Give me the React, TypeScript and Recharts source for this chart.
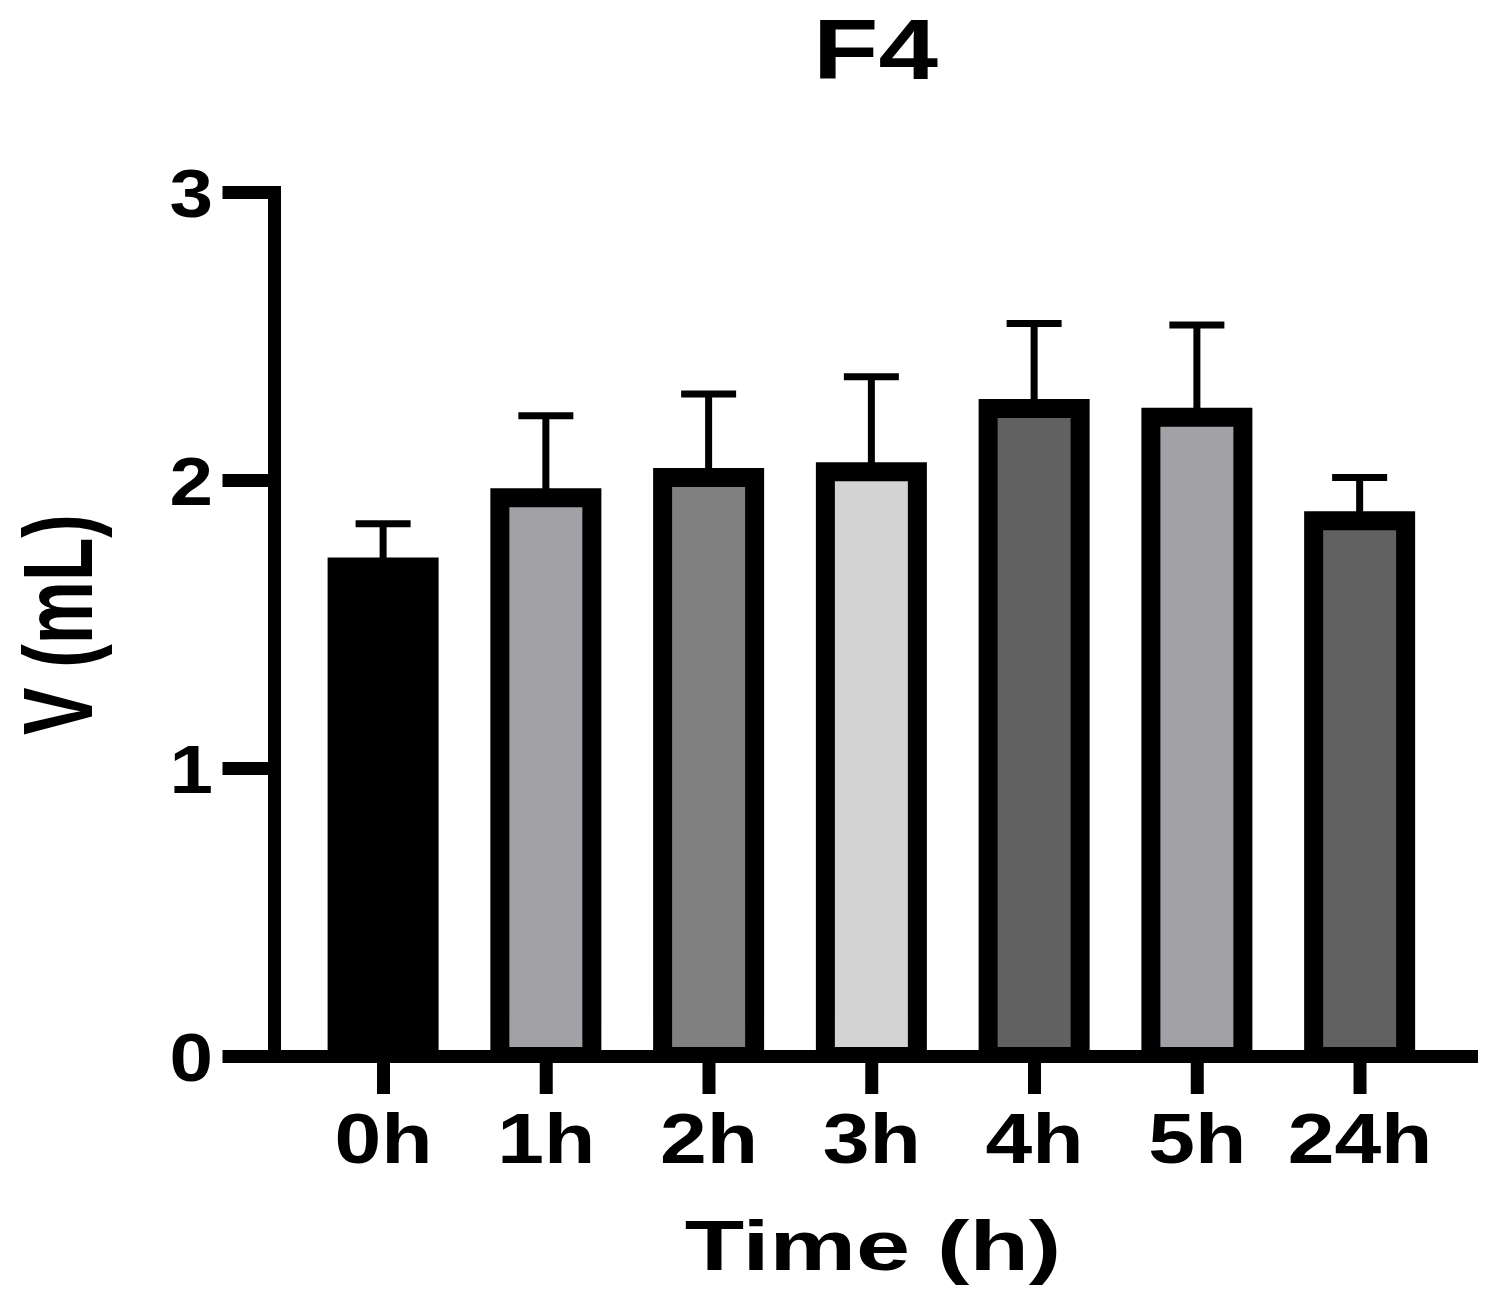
import React from "react";
import { BarChart, Bar, XAxis, YAxis, ErrorBar, Cell, Label } from "recharts";

// F4 volume over time
const categories = ["0h", "1h", "2h", "3h", "4h", "5h", "24h"];
const means = [1.7, 1.94, 2.01, 2.03, 2.25, 2.22, 1.86];
const errors = [0.15, 0.285, 0.29, 0.33, 0.295, 0.32, 0.15];
const barColors = ["#000000", "#a2a1a6", "#808080", "#d3d3d3", "#616161", "#a2a1a6", "#616161"];
const yTicks = [0, 1, 2, 3];

const data = categories.map((time, i) => ({
  time,
  volume: means[i],
  err: [0, errors[i]], // only the upper whisker is visible
}));

const FONT = '"Liberation Sans", Arial, Helvetica, sans-serif';

function XTick({ x, y, payload }: any) {
  return (
    <g transform={`translate(${x},${y})`}>
      <text
        transform="scale(1.2,1)"
        textAnchor="middle"
        dy={69}
        fontFamily={FONT}
        fontWeight="bold"
        fontSize={70}
        fill="#000"
      >
        {payload.value}
      </text>
    </g>
  );
}

function YTick({ x, y, payload }: any) {
  return (
    <g transform={`translate(${x - 9.5},${y})`}>
      <text
        transform="scale(1.15,1)"
        textAnchor="end"
        dy={24.5}
        fontFamily={FONT}
        fontWeight="bold"
        fontSize={68}
        fill="#000"
      >
        {payload.value}
      </text>
    </g>
  );
}

const renderXLabel = (props: any) => {
  const { viewBox } = props;
  const cx = viewBox.x + viewBox.width / 2;
  return (
    <g transform={`translate(${cx},${viewBox.y + 213.5})`}>
      <text
        transform="scale(1.37,1)"
        textAnchor="middle"
        fontFamily={FONT}
        fontWeight="bold"
        fontSize={71}
        fill="#000"
      >
        Time (h)
      </text>
    </g>
  );
};

const renderYLabel = (props: any) => {
  const { viewBox } = props;
  const cy = viewBox.y + viewBox.height / 2;
  return (
    <g transform={`translate(${viewBox.x + 92},${cy}) rotate(-90) scale(1,1.38)`}>
      <text
        textAnchor="middle"
        fontFamily={FONT}
        fontWeight="bold"
        fontSize={71}
        fill="#000"
      >
        V (mL)
      </text>
    </g>
  );
};

export default function App() {
  return (
    <div style={{ position: "absolute", left: 0, top: 0, width: 1501, height: 1300, background: "#fff" }}>
      <svg width={1501} height={120} style={{ position: "absolute", left: 0, top: 0 }}>
        <g transform="translate(875.5,79)">
          <text
            transform="scale(1.26,1)"
            textAnchor="middle"
            fontFamily={FONT}
            fontWeight="bold"
            fontSize={85}
            fill="#000"
          >
            F4
          </text>
        </g>
      </svg>
      <BarChart
        width={1501}
        height={1300}
        data={data}
        margin={{ top: 192.5, right: 29.5, bottom: 143.5, left: 0 }}
        style={{ position: "absolute", left: 0, top: 0 }}
      >
        <XAxis
          dataKey="time"
          height={100}
          padding={{ left: 27.6, right: 30.1 }}
          axisLine={{ stroke: "#000", strokeWidth: 13, strokeLinecap: "square" }}
          tickLine={{ stroke: "#000", strokeWidth: 13 }}
          tickSize={37.5}
          tickMargin={0}
          tick={<XTick />}
          interval={0}
        >
          <Label content={renderXLabel} />
        </XAxis>
        <YAxis
          width={274.5}
          domain={[0, 3]}
          ticks={yTicks}
          axisLine={{ stroke: "#000", strokeWidth: 13, strokeLinecap: "square" }}
          tickLine={{ stroke: "#000", strokeWidth: 13 }}
          tickSize={52}
          tickMargin={0}
          tick={<YTick />}
          allowDataOverflow
        >
          <Label content={renderYLabel} />
        </YAxis>
        <Bar
          dataKey="volume"
          barSize={92}
          stroke="#000"
          strokeWidth={19}
          isAnimationActive={false}
        >
          {data.map((d, i) => (
            <Cell key={d.time} fill={barColors[i]} />
          ))}
          <ErrorBar
            dataKey="err"
            direction="y"
            width={27.5}
            stroke="#000"
            strokeWidth={7}
            isAnimationActive={false}
          />
        </Bar>
      </BarChart>
    </div>
  );
}
